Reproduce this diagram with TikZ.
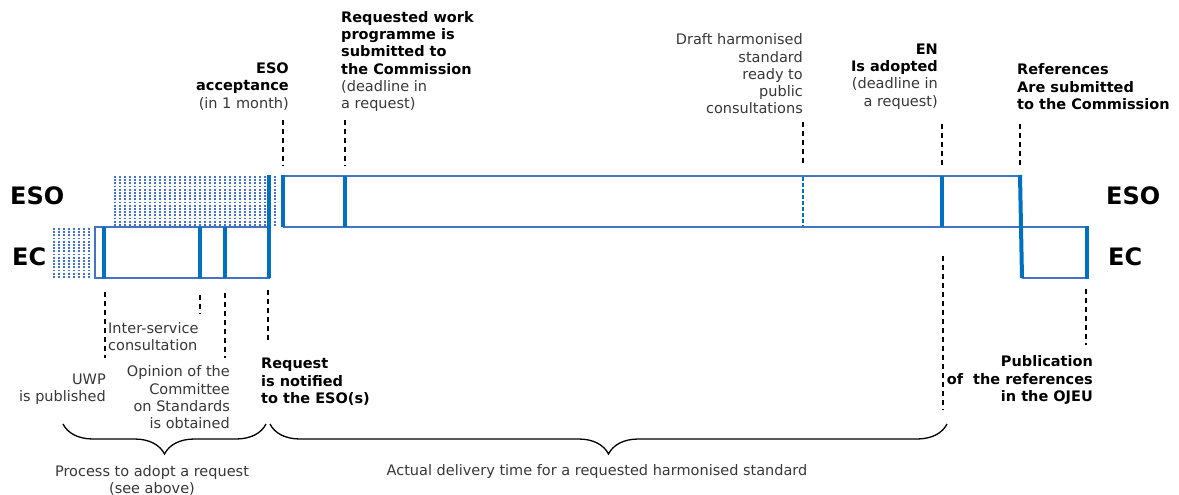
\documentclass[tikz,border=0pt]{standalone}
\usepackage{fontspec}
\setmainfont{DejaVu Sans}
\usetikzlibrary{decorations.pathreplacing}
\definecolor{thinblue}{RGB}{70,114,196}
\definecolor{barblue}{RGB}{0,112,192}
\definecolor{dotblue}{RGB}{68,114,210}
\definecolor{txtgray}{RGB}{55,55,55}
\begin{document}
\begin{tikzpicture}[x=1pt,y=-1pt,
 thinline/.style={draw=thinblue,line width=1.2pt},
 bar/.style={draw=barblue,line width=4pt},
 thinbar/.style={draw=barblue,line width=1.3pt,dash pattern=on 4pt off 2pt},
 guide/.style={draw=black,line width=1.3pt,dash pattern=on 5pt off 4pt},
 lbl/.style={inner sep=0pt,font=\fontsize{14.5}{17.3}\selectfont,text=txtgray},
 blbl/.style={inner sep=0pt,font=\fontsize{14.5}{17.3}\selectfont\bfseries,text=black},
 big/.style={inner sep=0pt,font=\fontsize{24}{28}\selectfont\bfseries},
 bracestyle/.style={decorate,decoration={brace,mirror,amplitude=30pt},line width=1.3pt},
 dotcol/.style={draw=dotblue,line width=1.8pt,dash pattern=on 1.7pt off 1.5pt}
]
\useasboundingbox (0,0) rectangle (1179,495);

% dotted areas
\foreach \x in {115,120,...,275} \draw[dotcol] (\x,176) -- (\x,227);
\foreach \x in {54,59,...,92} \draw[dotcol] (\x,228) -- (\x,278);

% EC left box
\draw[thinline] (95,227) rectangle (269,278);
% ESO main box
\draw[thinline] (283,176) -- (1020,176);
\draw[thinline] (283,227) -- (1087,227);
% EC right box
\draw[thinline] (1022,278) -- (1087,278);

% bars
\coordinate (b1t) at (104,227); \coordinate (b1b) at (104,278);
\coordinate (b2t) at (200,227); \coordinate (b2b) at (200,278);
\coordinate (b3t) at (225,227); \coordinate (b3b) at (225,278);
\coordinate (b4t) at (269,175); \coordinate (b4b) at (269,278);
\coordinate (b5t) at (283,175); \coordinate (b5b) at (283,227);
\coordinate (b6t) at (345,176); \coordinate (b6b) at (345,227);
\coordinate (b7t) at (803,177); \coordinate (b7b) at (803,226);
\coordinate (b8t) at (942,176); \coordinate (b8b) at (942,227);
\coordinate (b9t) at (1020,175); \coordinate (b9b) at (1022,278);
\coordinate (b10t) at (1087,226); \coordinate (b10b) at (1087,279);
\foreach \b in {1,2,3,4,5,6,8,9,10} \draw[bar] (b\b t) -- (b\b b);
\draw[thinbar] (b7t) -- (b7b);

% row labels
\node[big,anchor=west] (esoL) at (10,196) {ESO};
\node[big,anchor=west] (ecL) at (12,257) {EC};
\node[big,anchor=west] (esoR) at (1106,196) {ESO};
\node[big,anchor=west] (ecR) at (1108,257) {EC};

% upper texts
\node[lbl,align=right,anchor=north east] (acc) at (289,62.5)
  {\textcolor{black}{\bfseries ESO}\\\textcolor{black}{\bfseries acceptance}\\(in 1 month)};
\node[lbl,align=left,anchor=north west] (wp) at (341,11)
  {\textcolor{black}{\bfseries Requested work}\\\textcolor{black}{\bfseries programme is}\\\textcolor{black}{\bfseries submitted to}\\\textcolor{black}{\bfseries the Commission}\\(deadline in\\a request)};
\node[lbl,align=right,anchor=north east] (draft) at (803,33.5)
  {Draft harmonised\\standard\\ready to\\public\\consultations};
\node[lbl,align=right,anchor=north east] (en) at (938,43.5)
  {\textcolor{black}{\bfseries EN}\\\textcolor{black}{\bfseries Is adopted}\\(deadline in\\a request)};
\node[blbl,align=left,anchor=north west] (refs) at (1017,63.5)
  {References\\Are submitted\\to the Commission};

% lower texts
\node[lbl,align=left,anchor=north west] (isc) at (108,322)
  {Inter-service\\consultation};
\node[lbl,align=right,anchor=north east] (uwp) at (106,373.5)
  {UWP\\is published};
\node[lbl,align=right,anchor=north east] (opin) at (230,365.5)
  {Opinion of the\\Committee\\on Standards\\is obtained};
\node[blbl,align=left,anchor=north west] (notif) at (261,358)
  {Request\\is notified\\to the ESO(s)};
\node[blbl,align=right,anchor=north east] (pub) at (1093,355.5)
  {Publication\\of\ \ the references\\in the OJEU};

% guides (upper)
\coordinate (u5) at (283,120); \coordinate (u5e) at (283,166);
\coordinate (u6) at (345,120); \coordinate (u6e) at (345,166);
\coordinate (u7) at (803,122); \coordinate (u7e) at (803,166);
\coordinate (u8) at (942,124); \coordinate (u8e) at (942,166);
\coordinate (u9) at (1020,124); \coordinate (u9e) at (1020,168);
\foreach \g in {5,6,7,8,9} \draw[guide] (u\g) -- (u\g e);
% guides (lower)
\coordinate (l1) at (105,292); \coordinate (l1e) at (105,358);
\coordinate (l2) at (200,295); \coordinate (l2e) at (200,314);
\coordinate (l3) at (225,293); \coordinate (l3e) at (225,358);
\coordinate (l4) at (268,290); \coordinate (l4e) at (268,342);
\coordinate (l8) at (943,256); \coordinate (l8e) at (943,410);
\coordinate (l10) at (1086,289); \coordinate (l10e) at (1086,345);
\foreach \g in {1,2,3,4,8,10} \draw[guide] (l\g) -- (l\g e);

% braces
\coordinate (br1a) at (63,424); \coordinate (br1b) at (266,424);
\coordinate (br2a) at (270,424); \coordinate (br2b) at (947,424);
\draw[bracestyle] (br1a) -- (br1b);
\draw[bracestyle] (br2a) -- (br2b);
\node[lbl,align=center,anchor=north] (proc) at (152,465)
  {Process to adopt a request\\(see above)};
\node[lbl,align=center,anchor=north] (actual) at (597,464)
  {Actual delivery time for a requested harmonised standard};
\end{tikzpicture}
\end{document}
